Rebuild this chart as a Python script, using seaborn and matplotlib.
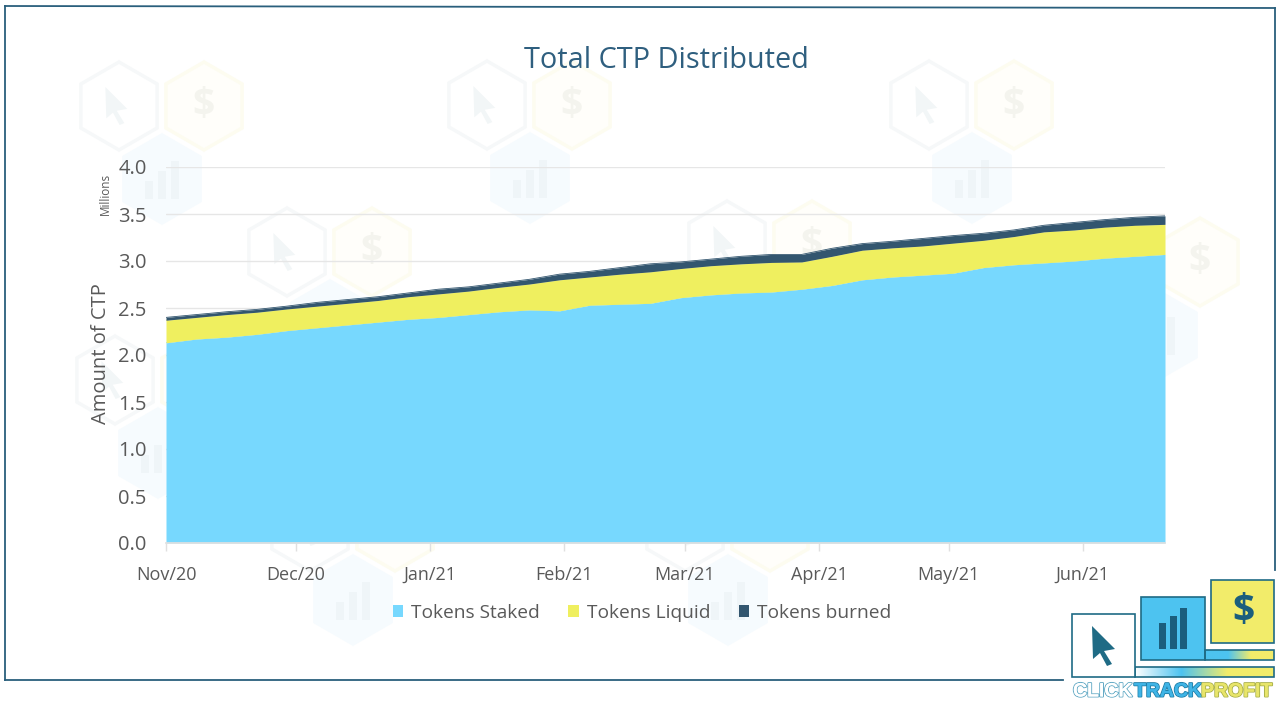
import numpy as np
import pandas as pd
import matplotlib.pyplot as plt
import matplotlib.dates as mdates
from matplotlib.patches import Patch, Polygon, Rectangle, RegularPolygon
from matplotlib.colors import LinearSegmentedColormap
import matplotlib.patheffects as pe
import seaborn as sns

#################### DATA ####################
weeks = pd.date_range("2020-11-01", periods=34, freq="7D")

tokens_staked = [
    2.13, 2.17, 2.19, 2.22, 2.26, 2.29, 2.32, 2.35, 2.38, 2.40, 2.43, 2.46,
    2.48, 2.47, 2.53, 2.54, 2.55, 2.61, 2.64, 2.66, 2.67, 2.70, 2.74, 2.80,
    2.83, 2.85, 2.87, 2.93, 2.96, 2.98, 3.00, 3.03, 3.05, 3.07,
]
tokens_liquid = [
    0.24, 0.23, 0.24, 0.235, 0.23, 0.23, 0.23, 0.23, 0.24, 0.25, 0.25, 0.26,
    0.275, 0.33, 0.30, 0.32, 0.335, 0.31, 0.31, 0.31, 0.315, 0.29, 0.31, 0.315,
    0.31, 0.31, 0.32, 0.29, 0.30, 0.33, 0.33, 0.33, 0.33, 0.32,
]
tokens_burned = [
    0.03, 0.03, 0.03, 0.03, 0.03, 0.04, 0.04, 0.04, 0.04, 0.05, 0.045, 0.045,
    0.05, 0.06, 0.06, 0.07, 0.085, 0.07, 0.07, 0.08, 0.085, 0.08, 0.085, 0.07,
    0.07, 0.08, 0.08, 0.075, 0.07, 0.07, 0.08, 0.08, 0.085, 0.09,
]
series_names = ["Tokens Staked", "Tokens Liquid", "Tokens burned"]
y_ticks = [0.0, 0.5, 1.0, 1.5, 2.0, 2.5, 3.0, 3.5, 4.0]

#################### CONFIG ####################
sns.set_theme(style="white")
plt.rcParams["font.family"] = ["Open Sans", "DejaVu Sans"]

BLUE = "#77D8FE"
YELLOW = "#EFEF5F"
DARK = "#33566F"
TEXT = "#595959"
TITLE = "#2F5F7F"
TEAL = "#1F6B85"
colors = dict(zip(series_names, [BLUE, YELLOW, DARK]))

fig = plt.figure(figsize=(12.8, 7.05), dpi=100, facecolor="white")

#################### Backdrop ####################
bg = fig.add_axes([0, 0, 1, 1], zorder=0)
bg.set_xlim(0, 1280)
bg.set_ylim(705, 0)
bg.axis("off")


def cursor_points(x, y, s=1.0):
    shape = [(-27, -20), (-4, 3), (-15, 5), (-7, 18), (-12, 20), (-19, 7), (-26, 13)]
    return [(x + s * a, y + s * b) for a, b in shape]


# faint hexagon watermark, cursor / dollar / bars
anchors = [(119, 106), (287, 252), (487, 105), (727, 245), (929, 105),
           (1115, 262), (115, 380), (310, 527), (685, 527)]
for ax_, ay_ in anchors:
    bg.add_patch(RegularPolygon((ax_, ay_), 6, radius=44, fc="white", ec="#F6F8F9", lw=2.5))
    bg.add_patch(Polygon(cursor_points(ax_ + 12, ay_, 0.95), fc="#F2F6F7", ec="none"))
    bg.add_patch(RegularPolygon((ax_ + 85, ay_), 6, radius=44, fc="#FFFEFA", ec="#FDFCF0", lw=2.5))
    bg.text(ax_ + 85, ay_, "$", ha="center", va="center", fontsize=28, weight="bold", color="#F4F4EE")
    bg.add_patch(RegularPolygon((ax_ + 43, ay_ + 73), 6, radius=44, fc="#F6FBFE", ec="#F6FBFE", lw=2.5))
    for dx, h in [(-13, 18), (0, 28), (13, 38)]:
        bg.add_patch(Rectangle((ax_ + 43 + dx - 4, ay_ + 93 - h), 8, h, fc="#EFF5F8", ec="none"))

# white block behind the logo, keeps the watermark out of it
bg.add_patch(Rectangle((1066, 575), 214, 130, fc="white", ec="none", zorder=5))

# slide frame
for xs, ys in [((5, 1275), (6, 8)), ((5, 5), (6, 680)),
               ((5, 1063), (680, 680)), ((1275, 1275), (8, 570))]:
    bg.plot(xs, ys, color="#2A5F7C", lw=1.3, solid_capstyle="projecting", zorder=6)

#################### Chart ####################
ax = fig.add_axes([166 / 1280, (705 - 543) / 705, 999 / 1280, 376 / 705], zorder=1)
ax.patch.set_alpha(0)

df = pd.DataFrame(
    {"date": weeks, series_names[0]: tokens_staked, series_names[1]: tokens_liquid,
     series_names[2]: tokens_burned}
)
tops = df.set_index("date")[series_names].cumsum(axis=1)
long_df = tops.reset_index().melt(id_vars="date", var_name="series", value_name="top")

lower = np.zeros(len(weeks))
for name, z in zip(series_names, [2, 3.5, 4]):
    ax.fill_between(weeks, lower, tops[name].values, color=colors[name], lw=0, zorder=z)
    lower = tops[name].values

sns.lineplot(
    data=long_df, x="date", y="top", hue="series", palette=colors,
    legend=False, lw=0.6, ax=ax, zorder=3,
)

ax.set_xlim(weeks[0], weeks[-1])
ax.set_ylim(0, 4)
ax.set_yticks(y_ticks)
ax.set_yticklabels([f"{v:.1f}" for v in y_ticks])
ax.xaxis.set_major_locator(mdates.MonthLocator())
ax.xaxis.set_major_formatter(mdates.DateFormatter("%b/%y"))
ax.yaxis.grid(True, color="#E6E6E6", lw=1)
ax.xaxis.grid(False)
ax.set_axisbelow(True)
sns.despine(ax=ax, left=True)
ax.spines["bottom"].set_color("#E0E0E0")
ax.tick_params(axis="x", length=6, width=1, color="#E0E0E0", labelsize=13, labelcolor=TEXT, pad=10.5, bottom=True)
ax.tick_params(axis="y", length=0, labelsize=14.5, labelcolor=TEXT, pad=14)
ax.set_xlabel("")
ax.set_ylabel("")

fig.text(101 / 1280, 1 - 354 / 705, "Amount of CTP", rotation=90, ha="center", va="center", fontsize=14.5, color=TEXT)
fig.text(105 / 1280, 1 - 194 / 705, "Millions", rotation=90, ha="center", va="center", fontsize=8.5, color=TEXT)
fig.text(666 / 1280, 1 - 61 / 705, "Total CTP Distributed", ha="center", va="center", fontsize=20.8, color=TITLE)

handles = [Patch(fc=colors[n], ec="none", label=n) for n in series_names]
fig.legend(
    handles=handles, loc="center", bbox_to_anchor=(642 / 1280, 1 - 613 / 705), ncol=3, frameon=False,
    fontsize=13.8, labelcolor=TEXT, handlelength=0.55, handleheight=0.55, handletextpad=0.4, columnspacing=1.5,
)

#################### Logo ####################
top = fig.add_axes([0, 0, 1, 1], zorder=2)
top.axis("off")
top.patch.set_alpha(0)

strip1 = LinearSegmentedColormap.from_list("s1", ["white", "#4DC3F0", "#F2EC6A", "#F2EC6A"])
strip2 = LinearSegmentedColormap.from_list("s2", ["#4DC3F0", "#4DC3F0", "#F2EC6A", "#F2EC6A"])
grad = np.linspace(0, 1, 256).reshape(1, -1)
top.imshow(grad, extent=(1135, 1274, 677, 667), cmap=strip1, aspect="auto", zorder=1)
top.imshow(grad, extent=(1205, 1274, 660, 650), cmap=strip2, aspect="auto", zorder=1)
top.set_xlim(0, 1280)
top.set_ylim(705, 0)

top.add_patch(Rectangle((1141, 597), 64, 63, fc="#4DC3F0", ec=TEAL, lw=1.2, zorder=2))
top.add_patch(Rectangle((1205, 650), 69, 10, fc="none", ec=TEAL, lw=1.2, zorder=2))
top.add_patch(Rectangle((1135, 667), 139, 10, fc="none", ec=TEAL, lw=1.2, zorder=2))
top.add_patch(Rectangle((1072, 614), 63, 63, fc="white", ec=TEAL, lw=1.2, zorder=2))
top.add_patch(Rectangle((1211, 580), 63, 63, fc="#F2EC6A", ec=TEAL, lw=1.2, zorder=2))
top.add_patch(Polygon([(1092, 626), (1115, 649), (1104, 651), (1112, 664), (1107, 666), (1100, 653), (1093, 659)],
                      fc=TEAL, ec="none", zorder=3))
for x0, y0 in [(1159, 623), (1170, 616), (1180, 608)]:
    top.add_patch(Rectangle((x0, y0), 7, 649 - y0, fc="#1B5E7D", ec="none", zorder=3))
top.text(1243, 612, "$", ha="center", va="center", fontsize=28, weight="bold", color="#1B5E7D", zorder=3)

for x0, word, fc, ec in [(1073, "CLICK", "white", "#5FA8C4"), (1134, "TRACK", "#3FB4E6", "#1F7FA8"),
                         (1201, "PROFIT", "#E8E56A", "#A9B04A")]:
    top.text(x0, 692, word, ha="left", va="center", fontsize=14, weight="bold", color=fc,
             family="Liberation Sans", zorder=3,
             path_effects=[pe.withStroke(linewidth=1.4, foreground=ec), pe.Normal()])

fig.savefig("out.png", dpi=100, facecolor="white")
